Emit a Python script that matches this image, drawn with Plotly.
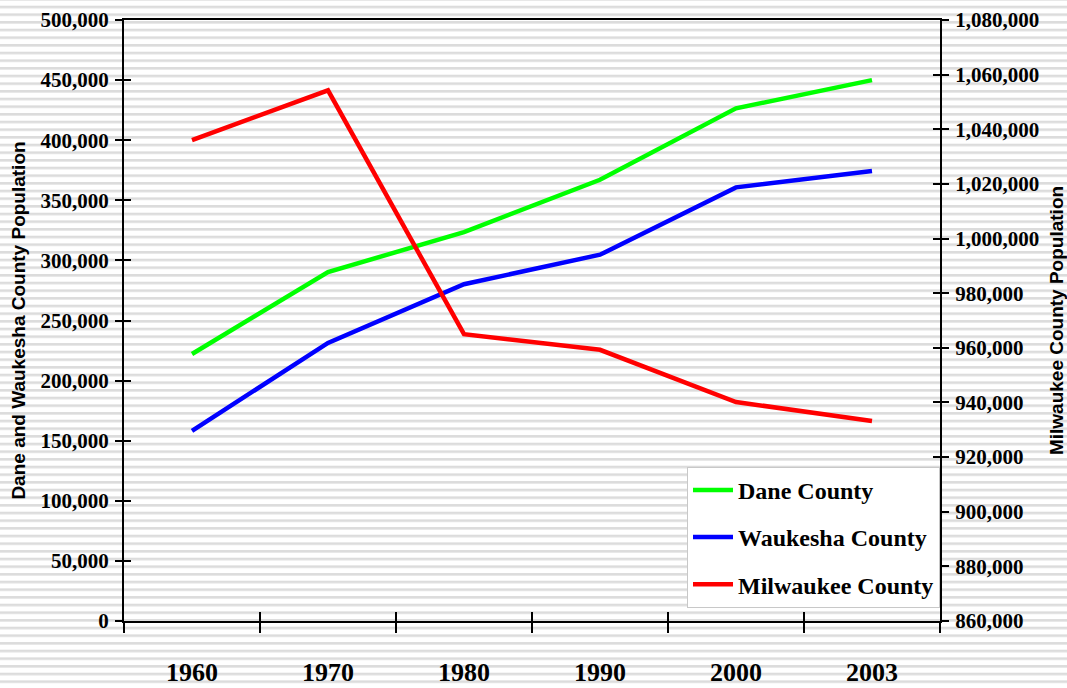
import base64
import plotly.graph_objects as go

# ---- data ----
years = ["1960", "1970", "1980", "1990", "2000", "2003"]
dane = [222095, 290272, 323545, 367085, 426526, 450000]
waukesha = [158249, 231335, 280203, 304715, 360767, 374400]
milwaukee = [1036041, 1054249, 964988, 959275, 940164, 933200]

left_range = [0, 500000]
left_dtick = 50000
right_range = [860000, 1080000]
right_dtick = 20000

W, H = 1067, 688
ML, MR, MT, MB = 124, 127, 20, 67
PW, PH = W - ML - MR, H - MT - MB

xpos = list(range(len(years)))
bounds = [i - 0.5 for i in range(len(years) + 1)]
xr = [-0.5, len(years) - 0.5]

# striped background as an svg image
svg = (
    f"<svg xmlns='http://www.w3.org/2000/svg' width='{W}' height='{H}'>"
    "<defs><pattern id='p' x='0' y='5.7' width='20' height='7.6667' patternUnits='userSpaceOnUse'>"
    "<rect x='0' y='0' width='20' height='2.6' fill='#dcdcdc'/></pattern></defs>"
    f"<rect width='{W}' height='{H}' fill='white'/>"
    f"<rect width='{W}' height='{H}' fill='url(#p)'/></svg>"
)
src = "data:image/svg+xml;base64," + base64.b64encode(svg.encode()).decode()

serif = "Liberation Serif"
sans = "Liberation Sans"

fig = go.Figure()
fig.add_trace(go.Scatter(x=xpos, y=dane, name="Dane County", mode="lines",
                         line=dict(color="#00ff00", width=4.5), legendgroup="a"))
fig.add_trace(go.Scatter(x=xpos, y=waukesha, name="Waukesha County", mode="lines",
                         line=dict(color="#0000ff", width=4.5), legendgroup="b"))
fig.add_trace(go.Scatter(x=xpos, y=milwaukee, name="Milwaukee County", mode="lines",
                         line=dict(color="#ff0000", width=4.5), legendgroup="c", yaxis="y2"))
# empty helper traces so the tick-only overlay axes exist
fig.add_trace(go.Scatter(x=[], y=[], xaxis="x2", yaxis="y3", showlegend=False, hoverinfo="skip"))
fig.add_trace(go.Scatter(x=[], y=[], xaxis="x", yaxis="y4", showlegend=False, hoverinfo="skip"))

tickfont = dict(family=serif, size=21, color="black", weight="bold")

fig.update_layout(
    width=W, height=H,
    margin=dict(l=ML, r=MR, t=MT, b=MB, pad=0, autoexpand=False),
    paper_bgcolor="white",
    plot_bgcolor="rgba(0,0,0,0)",
    images=[dict(source=src, xref="paper", yref="paper",
                 x=-ML / PW, y=1 + MT / PH, sizex=W / PW, sizey=H / PH,
                 xanchor="left", yanchor="top", sizing="stretch", layer="below")],
    xaxis=dict(range=xr, tickmode="array", tickvals=xpos, ticktext=years, ticks="",
               showline=True, linecolor="black", linewidth=2, mirror=True,
               showgrid=False, zeroline=False, automargin=False,
               tickfont=dict(family=serif, size=26, color="black", weight="bold"),
               ticklabelstandoff=27,
               minor=dict(tickmode="linear", tick0=-0.5, dtick=1, ticks="outside",
                          ticklen=10, tickwidth=2, tickcolor="black", showgrid=False)),
    xaxis2=dict(overlaying="x", anchor="y", range=xr, tickmode="array", tickvals=bounds,
                ticks="inside", ticklen=9, tickwidth=2, tickcolor="black", automargin=False,
                showticklabels=False, showline=False, showgrid=False, zeroline=False),
    yaxis=dict(range=left_range, tickmode="linear", tick0=0, dtick=left_dtick,
               tickformat=",", ticks="outside", ticklen=7, tickwidth=2, tickcolor="black",
               showline=True, linecolor="black", linewidth=2, showgrid=False, zeroline=False,
               tickfont=tickfont, ticklabelstandoff=2, automargin=False,
               title=dict(text="Dane and Waukesha County Population",
                          font=dict(family=sans, size=19, color="black", weight="bold"),
                          standoff=10)),
    yaxis3=dict(overlaying="y", anchor="x", side="left", range=left_range,
                tickmode="linear", tick0=0, dtick=left_dtick, automargin=False,
                ticks="inside", ticklen=7, tickwidth=2, tickcolor="black",
                showticklabels=False, showline=False, showgrid=False, zeroline=False),
    yaxis2=dict(overlaying="y", anchor="x", side="right", range=right_range,
                tickmode="linear", tick0=right_range[0], dtick=right_dtick,
                tickformat=",", ticks="outside", ticklen=7, tickwidth=2, tickcolor="black",
                showline=True, linecolor="black", linewidth=2, showgrid=False, zeroline=False,
                tickfont=tickfont, ticklabelstandoff=2, automargin=False,
                title=dict(text="Milwaukee County Population",
                           font=dict(family=sans, size=19, color="black", weight="bold"),
                           standoff=13)),
    yaxis4=dict(overlaying="y", anchor="x", side="right", range=right_range,
                tickmode="linear", tick0=right_range[0], dtick=right_dtick, automargin=False,
                ticks="inside", ticklen=7, tickwidth=2, tickcolor="black",
                showticklabels=False, showline=False, showgrid=False, zeroline=False),
    legend=dict(x=1, xanchor="right", y=0.022, yanchor="bottom",
                bgcolor="white", bordercolor="#c8c8c8", borderwidth=1,
                font=dict(family=serif, size=24, color="black", weight="bold"),
                itemwidth=40,
                tracegroupgap=13, traceorder="grouped"),
    showlegend=True,
)

fig.write_html("out.html", config={"displayModeBar": False},
               post_script="document.body.style.margin='0';")
